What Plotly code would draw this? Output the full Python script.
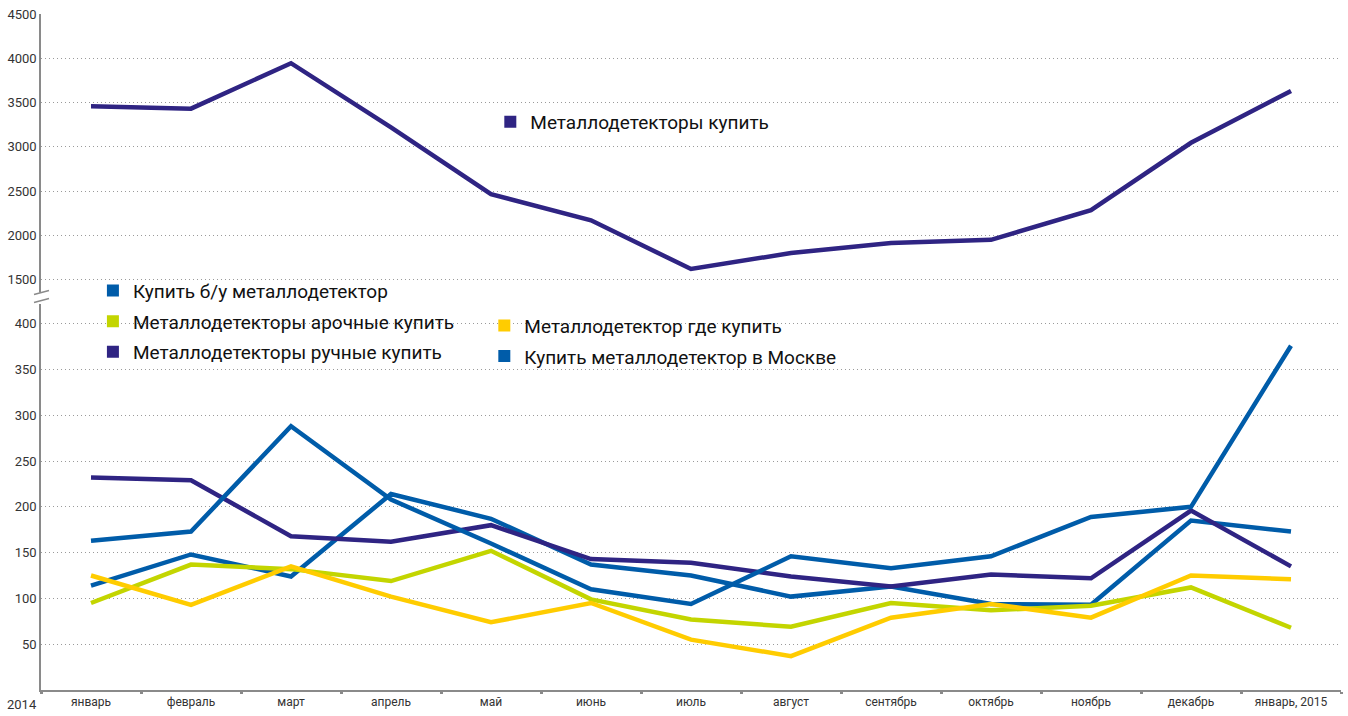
import plotly.graph_objects as go

months = ["январь", "февраль", "март", "апрель", "май", "июнь", "июль",
          "август", "сентябрь", "октябрь", "ноябрь", "декабрь", "январь, 2015"]

# upper panel
metal_buy = [3458, 3431, 3944, 3220, 2465, 2170, 1619, 1800, 1912, 1949, 2284, 3045, 3631]

# lower panel
used_buy = [114, 148, 124, 214, 187, 137, 125, 102, 113, 94, 93, 185, 173]
arch_buy = [95, 137, 132, 119, 152, 99, 77, 69, 95, 87, 92, 112, 68]
hand_buy = [232, 229, 168, 162, 180, 143, 139, 124, 113, 126, 122, 196, 135]
where_buy = [125, 93, 135, 102, 74, 95, 55, 37, 79, 94, 79, 125, 121]
moscow_buy = [163, 173, 288, 208, 160, 110, 94, 146, 133, 146, 189, 200, 376]

PURPLE = "#2f2483"
BLUE = "#005ca9"
LIME = "#c3d500"
YELLOW = "#ffcc00"

fig = go.Figure()

lower = [
    ("Купить б/у металлодетектор", used_buy, BLUE, "legend2"),
    ("Металлодетекторы арочные купить", arch_buy, LIME, "legend2"),
    ("Металлодетекторы ручные купить", hand_buy, PURPLE, "legend2"),
    ("Металлодетектор где купить", where_buy, YELLOW, "legend3"),
    ("Купить металлодетектор в Москве", moscow_buy, BLUE, "legend3"),
]

fig.add_trace(go.Scatter(x=months, y=metal_buy, mode="lines", xaxis="x", yaxis="y2",
                         line=dict(color=PURPLE, width=4.5), showlegend=False,
                         name="Металлодетекторы купить"))
for name, vals, col, lg in lower:
    fig.add_trace(go.Scatter(x=months, y=vals, mode="lines", xaxis="x", yaxis="y",
                             line=dict(color=col, width=4.5), showlegend=False, name=name))

# legend entries (square markers as in the original)
fig.add_trace(go.Scatter(x=[None], y=[None], mode="markers", name="Металлодетекторы купить",
                         marker=dict(symbol="square", size=9, color=PURPLE),
                         legend="legend", legendgroup="g0"))
for i, (name, vals, col, lg) in enumerate(lower):
    fig.add_trace(go.Scatter(x=[None], y=[None], mode="markers", name=name,
                             marker=dict(symbol="square", size=9, color=col),
                             legend=lg, legendgroup="g%d" % (i + 1)))

W, H = 1348, 716
L, R, T, B = 39, 7, 13, 26
pw = W - L - R
ph = H - T - B


def px_x(x):
    return (x - L) / pw


def px_y(y):
    return (H - B - y) / ph


font_family = "Roboto, 'Open Sans', sans-serif"
grid = dict(showgrid=True, gridcolor="#9a9a9a", griddash="1px,3px", gridwidth=1,
            showline=True, linecolor="#8a8a8a", linewidth=1.5, zeroline=False,
            tickfont=dict(size=13, color="#333333", family=font_family), ticks="")

legend_font = dict(size=19, color="#111111", family=font_family)
legend_common = dict(bgcolor="rgba(255,255,255,0)", borderwidth=0, font=legend_font,
                     itemsizing="constant", xanchor="left", yanchor="top",
                     tracegroupgap=3, itemclick=False)

fig.update_layout(
    width=W, height=H,
    margin=dict(l=L, r=R, t=T, b=B),
    paper_bgcolor="white", plot_bgcolor="white",
    font=dict(family=font_family, color="#333333"),
    xaxis=dict(type="category", categoryorder="array", categoryarray=months,
               range=[-0.5, 12.5], tickson="boundaries", ticks="outside",
               ticklen=2, tickwidth=3, tickcolor="#8a8a8a",
               showline=True, linecolor="#8a8a8a", linewidth=1.5,
               showgrid=False, zeroline=False, anchor="y",
               tickfont=dict(size=12, color="#333333", family=font_family)),
    yaxis=dict(domain=[0, px_y(303)], range=[0, 422],
               tickvals=[50, 100, 150, 200, 250, 300, 350, 400], anchor="x", **grid),
    yaxis2=dict(domain=[px_y(292), 1], range=[1353, 4500],
                tickvals=[1500, 2000, 2500, 3000, 3500, 4000, 4500], anchor="x", **grid),
    legend=dict(x=px_x(489), y=px_y(102), **legend_common),
    legend2=dict(x=px_x(91), y=px_y(271), **legend_common),
    legend3=dict(x=px_x(483), y=px_y(306), **legend_common),
    annotations=[dict(text="2014", xref="paper", yref="paper", x=px_x(20), y=px_y(705),
                      xanchor="center", yanchor="middle", showarrow=False,
                      font=dict(size=13, color="#333333", family=font_family))],
    shapes=[
        # white box behind the left legend block (hides the 400 grid line there)
        dict(type="rect", xref="paper", yref="paper", x0=px_x(100), x1=px_x(462),
             y0=px_y(364), y1=px_y(284), fillcolor="white", line=dict(width=0), layer="below"),
        # axis break marks
        dict(type="rect", xref="paper", yref="paper", x0=px_x(30), x1=px_x(48),
             y0=px_y(303), y1=px_y(292), fillcolor="white", line=dict(width=0), layer="above"),
        dict(type="line", xref="paper", yref="paper", x0=px_x(32), x1=px_x(47),
             y0=px_y(294), y1=px_y(290), line=dict(color="#8a8a8a", width=1.5)),
        dict(type="line", xref="paper", yref="paper", x0=px_x(32), x1=px_x(47),
             y0=px_y(302), y1=px_y(298), line=dict(color="#8a8a8a", width=1.5)),
    ],
)

fig.write_html("out.html", config={"displayModeBar": False},
               post_script="document.body.style.margin='0';")
